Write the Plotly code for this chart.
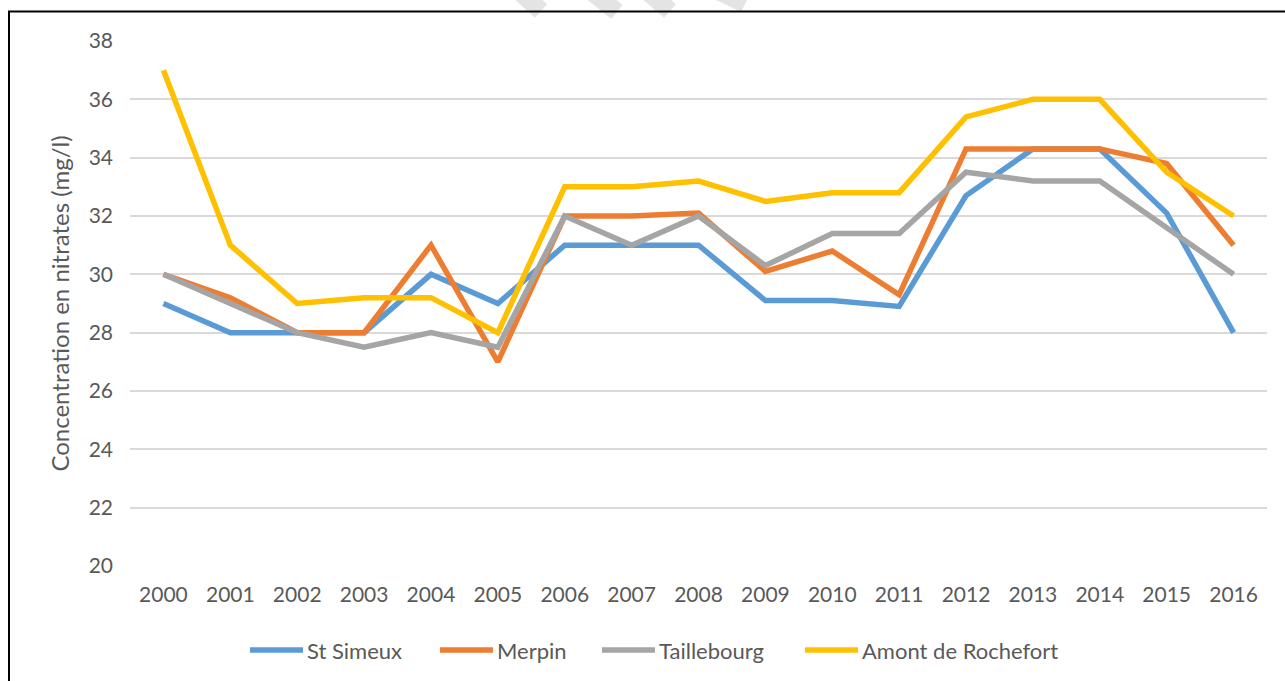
import plotly.graph_objects as go

years = [str(y) for y in range(2000, 2017)]
series_names = ["St Simeux", "Merpin", "Taillebourg", "Amont de Rochefort"]
st_simeux = [29, 28, 28, 28, 30, 29, 31, 31, 31, 29.1, 29.1, 28.9, 32.7, 34.3, 34.3, 32.1, 28]
merpin = [30, 29.2, 28, 28, 31, 27, 32, 32, 32.1, 30.1, 30.8, 29.3, 34.3, 34.3, 34.3, 33.8, 31]
taillebourg = [30, 29, 28, 27.5, 28, 27.5, 32, 31, 32, 30.3, 31.4, 31.4, 33.5, 33.2, 33.2, 31.6, 30]
amont_rochefort = [37, 31, 29, 29.2, 29.2, 28, 33, 33, 33.2, 32.5, 32.8, 32.8, 35.4, 36, 36, 33.5, 32]
series_values = [st_simeux, merpin, taillebourg, amont_rochefort]
colors = ["#5B9BD5", "#ED7D31", "#A5A5A5", "#FFC000"]

FONT = "Lato"
TXT = "#595959"
W, H = 1285, 681
L, R, T, B = 130, 1267, 41, 566

def px(x):
    return (x - L) / (R - L)

def py(y):
    return (B - y) / (B - T)

fig = go.Figure()
for name, vals, c in zip(series_names, series_values, colors):
    fig.add_trace(go.Scatter(x=years, y=vals, mode="lines", name=name,
                             line=dict(color=c, width=5.5), showlegend=False))

shapes = []
# outer border
shapes.append(dict(type="rect", xref="paper", yref="paper",
                   x0=px(9), x1=px(1300), y0=py(700), y1=py(11.5),
                   line=dict(color="black", width=2), layer="above"))
# faint watermark strokes at top
for (x0, y0, x1, y1) in [(520, -8, 541, 11), (592, -8, 617, 12), (648, -8, 670, 11), (720, -8, 745, 4)]:
    shapes.append(dict(type="line", xref="paper", yref="paper",
                       x0=px(x0), x1=px(x1), y0=py(y0), y1=py(y1),
                       line=dict(color="#e4e4e4", width=18), layer="below"))

# manual legend
legend_x = [250, 440, 602, 805]
annotations = []
for name, c, lx in zip(series_names, colors, legend_x):
    shapes.append(dict(type="line", xref="paper", yref="paper",
                       x0=px(lx), x1=px(lx + 53), y0=py(650), y1=py(650),
                       line=dict(color=c, width=5.5)))
    annotations.append(dict(xref="paper", yref="paper", x=px(lx + 55), y=py(650),
                            text=name, showarrow=False, xanchor="left", yanchor="middle",
                            font=dict(family=FONT, size=22, color=TXT)))

fig.update_layout(
    width=W, height=H,
    margin=dict(l=L, r=W - R, t=T, b=H - B),
    paper_bgcolor="white", plot_bgcolor="white",
    font=dict(family=FONT, size=20, color=TXT),
    shapes=shapes, annotations=annotations,
    showlegend=False,
)
fig.update_xaxes(type="category", range=[-0.5, 16.5], showgrid=False, showline=False,
                 ticks="", ticklabelstandoff=14, tickfont=dict(family=FONT, size=21, color=TXT),
                 zeroline=False)
fig.update_yaxes(range=[20, 38], dtick=2, showgrid=True, gridcolor="#D9D9D9", gridwidth=1.5,
                 showline=False, ticks="", zeroline=False, ticklabelstandoff=16,
                 tickfont=dict(family=FONT, size=21, color=TXT),
                 title=dict(text="Concentration en nitrates (mg/l)", standoff=12,
                            font=dict(family=FONT, size=24, color=TXT)))

fig.write_html("out.html", config={"displayModeBar": False},
               post_script="document.body.style.margin='0';")
